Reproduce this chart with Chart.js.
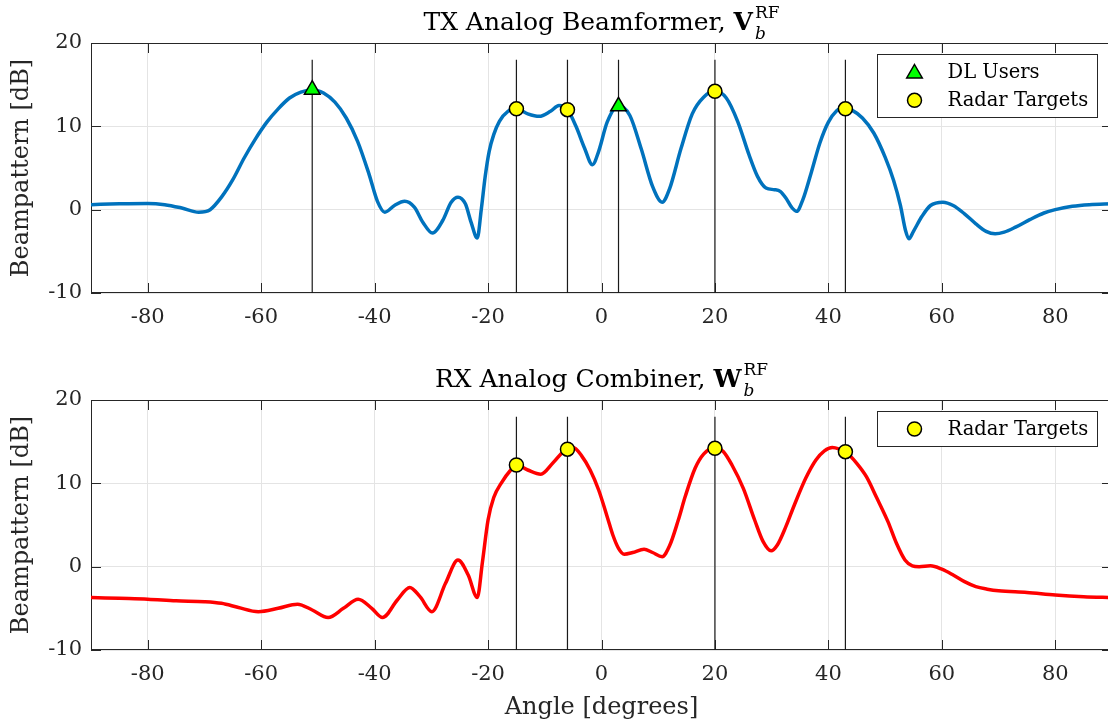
<!DOCTYPE html>
<html>
<head>
<meta charset="utf-8">
<script src="https://cdn.jsdelivr.net/npm/chart.js@4.4.0/dist/chart.umd.min.js"></script>
<style>
html, body { margin: 0; padding: 0; background: #fff; overflow: hidden; width: 1108px; height: 724px; }
#wrap { position: relative; width: 1108px; height: 724px; overflow: hidden; }
canvas { position: absolute; left: 0; }
#txChart { top: 0; }
#rxChart { top: 350px; }
</style>
</head>
<body>
<div id="wrap">
  <canvas id="txChart" width="1112" height="345"></canvas>
  <canvas id="rxChart" width="1112" height="374"></canvas>
</div>
<script>
// TX analog beamformer pattern (deg, dB)
const txAngles = [-90, -85, -80, -77, -74, -71, -69, -67, -65, -63, -61, -59, -57, -55, -53, -51, -49, -47, -45, -43,
  -41, -39.5, -38.2, -36.5, -34.7, -33, -31.5, -29.8, -28, -26.5, -25.3, -24, -23, -21.9, -21.2, -20.5, -19.8, -19,
  -18, -16.5, -15, -13, -11, -9, -7.5, -6, -4.5, -3, -1.6, -0.5, 1, 3, 5, 7, 9, 10.7, 12, 14, 16, 18, 20, 22, 24,
  26, 27.5, 29, 30.5, 31.5, 32.5, 33.5, 34.4, 35.5, 37, 38.5, 40, 41.5, 42.7, 44, 46, 48, 50, 51.5, 52.7, 53.6,
  54.2, 55, 56.5, 58, 60.2, 62, 64, 66, 67.8, 69.4, 71, 73, 75.5, 78, 80, 83, 86, 90];
const txGain = [0.6, 0.7, 0.75, 0.6, 0.2, -0.3, 0.0, 1.5, 3.6, 6.2, 8.5, 10.5, 12.1, 13.4, 14.1, 14.4, 14.0, 12.9, 11.0, 8.2,
  4.3, 1.0, -0.3, 0.5, 1.0, 0.3, -1.5, -2.8, -1.3, 0.9, 1.5, 0.7, -1.5, -3.4, 0.0, 4.0, 7.0, 9.0,
  10.6, 11.8, 12.1, 11.5, 11.2, 11.8, 12.5, 12.0, 10.0, 7.4, 5.4, 7.0, 10.5, 12.5, 11.3, 7.3, 2.8, 0.9, 2.5, 7.3, 11.5, 13.5, 14.2, 13.4, 10.6,
  6.6, 4.0, 2.6, 2.4, 2.2, 1.4, 0.3, -0.2, 1.2, 4.5, 8.0, 10.5, 11.9, 12.3, 12.0, 11.0, 9.2, 6.3, 3.5, 0.5, -2.5,
  -3.5, -2.6, -0.8, 0.5, 0.9, 0.5, -0.5, -1.7, -2.6, -2.9, -2.7, -2.1, -1.2, -0.4, 0.0, 0.4, 0.6, 0.7];

// RX analog combiner pattern (deg, dB)
const rxAngles = [-90, -85, -80, -75, -70, -67, -64, -60.5, -57, -53.6, -51, -48.2, -45.5, -42.9, -40.5, -38.6, -36,
  -33.8, -32, -29.9, -27.5, -25.3, -23.5, -21.9, -21, -20, -19, -17.7, -16, -15, -13, -10.7, -8.5, -6, -5, -3.5,
  -2, -0.5, 1, 2, 3, 4, 5.5, 7.5, 9, 10.7, 12, 13.5, 14.8, 16.5, 18, 20, 21.5, 23, 25, 27, 28.5, 29.9, 31, 32.5,
  34, 36, 37.8, 39.3, 40.7, 42, 43, 45, 46.7, 48.5, 50.5, 52, 53.5, 54.8, 56, 58, 60, 62, 64, 66, 68, 70, 75,
  80, 85, 90];
const rxGain = [-3.7, -3.8, -3.9, -4.1, -4.2, -4.4, -4.9, -5.4, -5.0, -4.5, -5.2, -6.1, -5.0, -3.9, -5.0, -6.1, -4.0,
  -2.5, -3.6, -5.4, -2.0, 0.8, -1.0, -3.7, 0.5, 5.6, 8.3, 10.0, 11.6, 12.2, 11.6, 11.1, 12.5, 14.2, 14.3, 13.3,
  11.6, 9.2, 6.0, 3.8, 2.2, 1.5, 1.7, 2.1, 1.7, 1.2, 2.5, 5.5, 8.5, 11.8, 13.5, 14.3, 13.8, 12.2, 9.4, 5.6, 3.0, 1.9, 2.6, 4.8,
  7.4, 10.6, 12.8, 13.9, 14.3, 14.1, 13.8, 12.4, 10.8, 8.3, 5.4, 2.8, 0.8, 0.1, 0.0, 0.1, -0.3, -1.0, -1.8, -2.4, -2.7, -2.9, -3.1,
  -3.4, -3.6, -3.7];

const dlAngles = [-51, 3];
const dlGain = [14.4, 12.4];
const radarAngles = [-15, -6, 20, 43];
const txRadarGain = [12.1, 12.0, 14.2, 12.1];
const rxRadarGain = [12.2, 14.1, 14.2, 13.8];

const xTicks = [-80, -60, -40, -20, 0, 20, 40, 60, 80];
const yTicks = [-10, 0, 10, 20];
const stemTop = 18;
const stemBottom = -10;

const serif = "'DejaVu Serif', 'Liberation Serif', serif";
const axisColor = '#262626';

function pts(xs, ys) {
  return xs.map((x, i) => ({ x: x, y: ys[i] }));
}

function stems(xs) {
  const out = [];
  xs.forEach(x => {
    out.push({ x: x, y: stemBottom }, { x: x, y: stemTop }, { x: x, y: null });
  });
  return out;
}

function drawMarker(ctx, style, x, y, r) {
  ctx.beginPath();
  if (style === 'triangle') {
    ctx.moveTo(x, y - r);
    ctx.lineTo(x + r * 0.866, y + r / 2);
    ctx.lineTo(x - r * 0.866, y + r / 2);
    ctx.closePath();
  } else {
    ctx.arc(x, y, r, 0, Math.PI * 2);
  }
  ctx.fill();
  ctx.stroke();
}

// box and inward ticks, like matlab axes
const matlabAxes = {
  id: 'matlabAxes',
  beforeDatasetsDraw(chart) {
    const { ctx, chartArea: a, scales } = chart;
    const L = 10;
    ctx.save();
    ctx.strokeStyle = axisColor;
    ctx.lineWidth = 1;
    ctx.beginPath();
    xTicks.forEach(v => {
      const px = Math.round(scales.x.getPixelForValue(v)) + 0.5;
      ctx.moveTo(px, a.bottom); ctx.lineTo(px, a.bottom - L);
      ctx.moveTo(px, a.top); ctx.lineTo(px, a.top + L);
    });
    yTicks.forEach(v => {
      const py = Math.round(scales.y.getPixelForValue(v)) + 0.5;
      ctx.moveTo(a.left, py); ctx.lineTo(a.left + L, py);
      ctx.moveTo(a.right, py); ctx.lineTo(a.right - L, py);
    });
    ctx.stroke();
    ctx.strokeRect(Math.round(a.left) + 0.5, Math.round(a.top) + 0.5, a.width - 1, a.height - 1);
    ctx.restore();
  }
};

const boxLegend = {
  id: 'boxLegend',
  afterDraw(chart, args, o) {
    if (!o.items) return;
    const { ctx, chartArea: a } = chart;
    const rowH = 28.3;
    const left = Math.round(a.right - 235) + 0.5;
    const top = Math.round(a.top + 11) + 0.5;
    const h = Math.round(6.7 + rowH * o.items.length);
    ctx.save();
    ctx.fillStyle = '#fff';
    ctx.strokeStyle = axisColor;
    ctx.lineWidth = 1;
    ctx.fillRect(left, top, 220, h);
    ctx.strokeRect(left, top, 220, h);
    o.items.forEach((idx, i) => {
      const ds = chart.data.datasets[idx];
      const cy = top + 17.5 + i * rowH;
      ctx.fillStyle = ds.pointBackgroundColor;
      ctx.strokeStyle = '#000';
      ctx.lineWidth = ds.pointBorderWidth;
      drawMarker(ctx, ds.pointStyle, left + 37, cy + (ds.pointStyle === 'triangle' ? 1.5 : 0), ds.pointRadius);
      ctx.fillStyle = '#000';
      ctx.font = '19.5px ' + serif;
      ctx.textBaseline = 'middle';
      ctx.textAlign = 'left';
      ctx.fillText(ds.label, left + 70, cy + 1);
    });
    ctx.restore();
  }
};

// title with bold symbol and stacked sub/superscript
const mathTitle = {
  id: 'mathTitle',
  afterDraw(chart, args, o) {
    if (!o.main) return;
    const { ctx, chartArea: a } = chart;
    const fMain = '25px ' + serif, fSym = 'bold 25px ' + serif;
    const fSup = '17px ' + serif, fSub = 'italic 17px ' + serif;
    ctx.save();
    ctx.fillStyle = '#000';
    ctx.textBaseline = 'alphabetic';
    ctx.textAlign = 'left';
    ctx.font = fMain; const wMain = ctx.measureText(o.main).width;
    ctx.font = fSym; const wSym = ctx.measureText(o.sym).width;
    ctx.font = fSup; const wSup = ctx.measureText(o.sup).width;
    ctx.font = fSub; const wSub = ctx.measureText(o.sub).width;
    const total = wMain + wSym + 2 + Math.max(wSup, wSub);
    let x = (a.left + a.right) / 2 - total / 2;
    ctx.font = fMain; ctx.fillText(o.main, x, o.y); x += wMain;
    ctx.font = fSym; ctx.fillText(o.sym, x, o.y); x += wSym + 2;
    ctx.font = fSup; ctx.fillText(o.sup, x, o.y - 12);
    ctx.font = fSub; ctx.fillText(o.sub, x, o.y + 9);
    ctx.restore();
  }
};

function makeChart(id, cfg) {
  const datasets = [
    {
      label: 'pattern', data: pts(cfg.angles, cfg.gain), showLine: true,
      borderColor: cfg.color, borderWidth: 3.5, pointRadius: 0, fill: false,
      cubicInterpolationMode: 'monotone', order: 2
    },
    {
      label: 'stems', data: stems(cfg.stemAngles), showLine: true, spanGaps: false,
      borderColor: '#1a1a1a', borderWidth: 1.2, pointRadius: 0, order: 3
    }
  ];
  const legendItems = [];
  if (cfg.dl) {
    datasets.push({
      label: 'DL Users', data: pts(dlAngles, dlGain), showLine: false,
      pointStyle: 'triangle', pointRadius: 9, pointBackgroundColor: '#00ff00',
      pointBorderColor: '#000', pointBorderWidth: 1.5, order: 1
    });
    legendItems.push(datasets.length - 1);
  }
  datasets.push({
    label: 'Radar Targets', data: pts(radarAngles, cfg.radar), showLine: false,
    pointStyle: 'circle', pointRadius: 7, pointBackgroundColor: '#ffff00',
    pointBorderColor: '#000', pointBorderWidth: 1.5, order: 0
  });
  legendItems.push(datasets.length - 1);

  const canvas = document.getElementById(id);
  return new Chart(canvas, {
    type: 'scatter',
    data: { datasets: datasets },
    plugins: [matlabAxes, boxLegend, mathTitle],
    options: {
      responsive: false,
      animation: false,
      devicePixelRatio: 1,
      layout: { autoPadding: false, padding: { top: cfg.padTop, left: 0, right: 0, bottom: 0 } },
      plugins: {
        legend: { display: false },
        tooltip: { enabled: false },
        boxLegend: { items: legendItems },
        mathTitle: cfg.title
      },
      scales: {
        x: {
          type: 'linear', min: -90, max: 90,
          afterBuildTicks: s => { s.ticks = xTicks.map(v => ({ value: v })); },
          afterFit: s => { s.height = cfg.xHeight; s.paddingLeft = 0; s.paddingRight = 0; },
          grid: { color: '#e4e4e4', lineWidth: 1, drawTicks: false },
          border: { display: false },
          ticks: { color: axisColor, font: { family: serif, size: 21 }, padding: 12, maxRotation: 0 },
          title: cfg.xTitle ? {
            display: true, text: 'Angle [degrees]', color: axisColor,
            font: { family: serif, size: 24 }, padding: { top: 0, bottom: 2 }
          } : { display: false }
        },
        y: {
          type: 'linear', min: -10, max: 20,
          afterBuildTicks: s => { s.ticks = yTicks.map(v => ({ value: v })); },
          afterFit: s => { s.width = 91; s.paddingTop = 0; s.paddingBottom = 0; },
          grid: { color: '#e4e4e4', lineWidth: 1, drawTicks: false },
          border: { display: false },
          ticks: { color: axisColor, font: { family: serif, size: 21 }, padding: 9 },
          title: {
            display: true, text: 'Beampattern [dB]', color: axisColor,
            font: { family: serif, size: 24 }, padding: { top: 7, bottom: 0 }
          }
        }
      }
    }
  });
}

makeChart('txChart', {
  angles: txAngles, gain: txGain, color: '#0072bd',
  stemAngles: dlAngles.concat(radarAngles), dl: true, radar: txRadarGain,
  padTop: 43, xHeight: 52, xTitle: false,
  title: { main: 'TX Analog Beamformer, ', sym: 'V', sup: 'RF', sub: 'b', y: 30 }
});

makeChart('rxChart', {
  angles: rxAngles, gain: rxGain, color: '#ff0000',
  stemAngles: radarAngles, dl: false, radar: rxRadarGain,
  padTop: 50, xHeight: 74, xTitle: true,
  title: { main: 'RX Analog Combiner, ', sym: 'W', sup: 'RF', sub: 'b', y: 37 }
});
</script>
</body>
</html>
